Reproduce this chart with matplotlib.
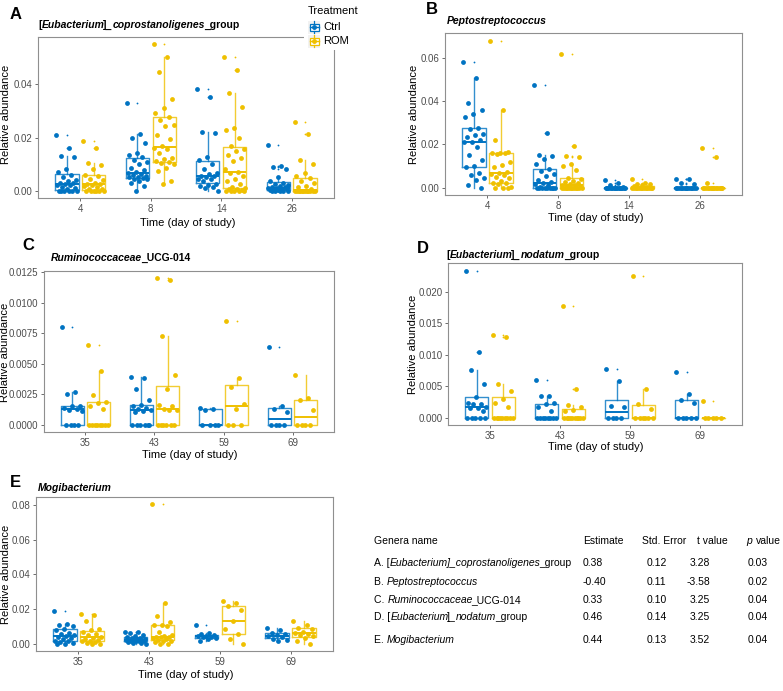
import numpy as np
import matplotlib
matplotlib.use('Agg')
import matplotlib.pyplot as plt
from matplotlib.patches import Rectangle

plt.rcParams['font.family'] = ['Liberation Sans', 'DejaVu Sans']

BLUE = '#0073C2'
YELLOW = '#EFC000'

# x axis labels
days_early = ['4', '8', '14', '26']
days_late = ['35', '43', '59', '69']

# A - [Eubacterium]_coprostanoligenes_group
a_ctrl = [
    [0.021, 0.016, 0.013, 0.0125, 0.008, 0.007, 0.006, 0.005, 0.004, 0.0035, 0.003, 0.0028,
     0.0025, 0.0022, 0.002, 0.0015, 0.001, 0.0005, 0, 0, 0, 0, 0, 0],
    [0.033, 0.0213, 0.0198, 0.018, 0.014, 0.0134, 0.0128, 0.0115, 0.0108, 0.0099, 0.0085, 0.0078,
     0.007, 0.0066, 0.0062, 0.0058, 0.0056, 0.0053, 0.005, 0.0048, 0.0045, 0.0043, 0.0037, 0.003,
     0.0019, 0.0],
    [0.0384, 0.0353, 0.0219, 0.0216, 0.0128, 0.0115, 0.0099, 0.008, 0.0068, 0.0062, 0.0056, 0.0054,
     0.005, 0.0045, 0.0043, 0.0037, 0.0025, 0.002, 0.0018, 0.0015, 0.0009, 0.0],
    [0.0171, 0.0093, 0.0088, 0.008, 0.0052, 0.0037, 0.003, 0.0027, 0.0022, 0.0018, 0.0015, 0.0012,
     0.0011, 0.001, 0.0008, 0.0006, 0.0005, 0.0004, 0.0002, 0, 0, 0, 0, 0],
]
a_rom = [
    [0.0186, 0.016, 0.0103, 0.0097, 0.008, 0.006, 0.0055, 0.0045, 0.004, 0.003, 0.0027, 0.0025,
     0.002, 0.0018, 0.0012, 0.0008, 0.0005, 0, 0, 0, 0, 0, 0],
    [0.0551, 0.0504, 0.0446, 0.0343, 0.031, 0.0294, 0.0279, 0.0265, 0.0248, 0.0242, 0.021, 0.0195,
     0.0167, 0.0161, 0.0155, 0.014, 0.0124, 0.0118, 0.0112, 0.0108, 0.0104, 0.0099, 0.0087, 0.0074,
     0.0037, 0.0025],
    [0.0504, 0.0455, 0.0369, 0.0316, 0.0235, 0.0227, 0.02, 0.0167, 0.0155, 0.0149, 0.0136, 0.0124,
     0.0112, 0.008, 0.0072, 0.0068, 0.0056, 0.0045, 0.0037, 0.0025, 0.0015, 0.001, 0.0008, 0.0005,
     0.0002, 0, 0, 0, 0, 0],
    [0.0257, 0.0213, 0.0114, 0.0099, 0.0068, 0.0056, 0.0047, 0.0037, 0.003, 0.0019, 0.0012, 0.0005,
     0, 0, 0, 0, 0, 0, 0, 0, 0, 0, 0, 0],
]

# B - Peptostreptococcus
b_ctrl = [
    [0.058, 0.0505, 0.039, 0.0359, 0.034, 0.0328, 0.0276, 0.0272, 0.0249, 0.0241, 0.0234, 0.0218,
     0.0212, 0.021, 0.0188, 0.015, 0.0127, 0.0099, 0.0096, 0.0066, 0.0058, 0.0043, 0.0035, 0.0012, 0.0],
    [0.0475, 0.0252, 0.0153, 0.0147, 0.013, 0.0111, 0.0084, 0.0078, 0.0063, 0.0053, 0.0035, 0.0025,
     0.002, 0.0015, 0.0012, 0.0005, 0, 0, 0, 0, 0, 0, 0, 0, 0],
    [0.0033, 0.0022, 0.001, 0.0005, 0, 0, 0, 0, 0, 0, 0, 0, 0, 0, 0, 0, 0, 0, 0, 0],
    [0.004, 0.0038, 0.0021, 0.0018, 0, 0, 0, 0, 0, 0, 0, 0, 0, 0, 0, 0, 0, 0],
]
b_rom = [
    [0.0676, 0.036, 0.0218, 0.0165, 0.0162, 0.016, 0.0158, 0.0157, 0.0119, 0.0104, 0.0096, 0.0073,
     0.0066, 0.0062, 0.0058, 0.005, 0.0043, 0.003, 0.0023, 0.002, 0.0015, 0.0005, 0, 0, 0],
    [0.0615, 0.0192, 0.0147, 0.014, 0.0108, 0.0101, 0.0081, 0.0043, 0.004, 0.003, 0.0025, 0.002,
     0.0015, 0.0012, 0.001, 0.0007, 0.0004, 0, 0, 0, 0, 0, 0, 0, 0, 0, 0, 0, 0],
    [0.0038, 0.0023, 0.0018, 0.0015, 0.001, 0.0008, 0.0005, 0, 0, 0, 0, 0, 0, 0, 0, 0, 0, 0, 0, 0],
    [0.0183, 0.0142, 0.002, 0, 0, 0, 0, 0, 0, 0, 0, 0, 0, 0, 0, 0, 0, 0],
]

# C - Ruminococcaceae_UCG-014
c_ctrl = [
    [0.008, 0.0027, 0.0025, 0.0015, 0.0015, 0.0014, 0.0013, 0.0012, 0.0011, 0, 0, 0, 0],
    [0.0039, 0.0038, 0.0029, 0.002, 0.0016, 0.0015, 0.0014, 0.0013, 0.0012, 0.0011, 0.001,
     0, 0, 0, 0, 0, 0],
    [0.0014, 0.0013, 0.0012, 0, 0, 0, 0],
    [0.0064, 0.0015, 0.0013, 0.001, 0, 0, 0, 0],
]
c_rom = [
    [0.0065, 0.0044, 0.0024, 0.0019, 0.0018, 0.0015, 0.0013, 0, 0, 0, 0, 0, 0, 0, 0],
    [0.012, 0.0119, 0.0073, 0.0041, 0.0029, 0.0016, 0.0015, 0.0013, 0.0012, 0.0012,
     0, 0, 0, 0, 0, 0],
    [0.0085, 0.0038, 0.0031, 0.0017, 0.0013, 0, 0, 0],
    [0.0041, 0.0022, 0.002, 0.0012, 0, 0, 0, 0],
]

# D - [Eubacterium]_nodatum_group
d_ctrl = [
    [0.0234, 0.0104, 0.0076, 0.0054, 0.0033, 0.0024, 0.0022, 0.0021, 0.0017, 0.0016, 0.0015, 0.001,
     0, 0, 0, 0, 0],
    [0.006, 0.0035, 0.0034, 0.0024, 0.0021, 0.0017, 0.0011, 0, 0, 0, 0, 0, 0, 0, 0],
    [0.0077, 0.0058, 0.0018, 0.0017, 0, 0, 0, 0],
    [0.0072, 0.0037, 0.0028, 0.0024, 0, 0, 0, 0, 0],
]
d_rom = [
    [0.0131, 0.0128, 0.0054, 0.0042, 0.0029, 0.0024, 0.0017, 0, 0, 0, 0, 0, 0, 0, 0, 0],
    [0.0178, 0.0046, 0.002, 0.0017, 0.0012, 0.0011, 0, 0, 0, 0, 0, 0, 0, 0, 0, 0],
    [0.0226, 0.0046, 0.0022, 0.0013, 0, 0, 0, 0, 0, 0],
    [0.0027, 0, 0, 0, 0, 0],
]

# E - Mogibacterium
e_ctrl = [
    [0.019, 0.0115, 0.011, 0.0105, 0.0088, 0.008, 0.0065, 0.006, 0.005, 0.0045, 0.004, 0.0035,
     0.003, 0.002, 0.0015, 0.001, 0.0005, 0, 0],
    [0.0072, 0.007, 0.0065, 0.0052, 0.0045, 0.004, 0.0036, 0.0033, 0.003, 0.0028, 0.0026, 0.0025,
     0.0024, 0.0022, 0.002, 0.0019, 0.0018, 0.0016, 0.0012, 0.0008, 0.0004, 0.0],
    [0.011, 0.0062, 0.0056, 0.0052, 0.0048, 0.0045, 0.0042, 0.0038, 0.0035, 0.003, 0.0015],
    [0.0095, 0.0078, 0.0065, 0.006, 0.005, 0.0045, 0.0038, 0.003, 0.0025, 0.0015],
]
e_rom = [
    [0.0175, 0.0165, 0.013, 0.0085, 0.0078, 0.007, 0.006, 0.005, 0.0042, 0.0035, 0.003, 0.0025,
     0.002, 0.0015, 0.001, 0.0005, 0, 0],
    [0.0805, 0.0235, 0.016, 0.0125, 0.0112, 0.011, 0.0105, 0.007, 0.0052, 0.0045, 0.0042, 0.004,
     0.0038, 0.0035, 0.003, 0.0025, 0.002, 0.0015, 0.001, 0.0, 0.0],
    [0.0245, 0.0235, 0.022, 0.0195, 0.0135, 0.0085, 0.0055, 0.003, 0.0],
    [0.0135, 0.011, 0.0095, 0.0088, 0.007, 0.0062, 0.006, 0.0052, 0.0045, 0.0035, 0.002, 0.0],
]

# table
tab_header = ['Estimate', 'Std. Error', 't value']
tab_estimate = ['0.38', '-0.40', '0.33', '0.46', '0.44']
tab_se = ['0.12', '0.11', '0.10', '0.14', '0.13']
tab_t = ['3.28', '-3.58', '3.25', '3.25', '3.52']
tab_p = ['0.03', '0.02', '0.04', '0.04', '0.04']
tab_names = [
    [('A. [', 'normal'), ('Eubacterium]_coprostanoligenes', 'italic'), ('_group', 'normal')],
    [('B. ', 'normal'), ('Peptostreptococcus', 'italic')],
    [('C. ', 'normal'), ('Ruminococcaceae', 'italic'), ('_UCG-014', 'normal')],
    [('D. [', 'normal'), ('Eubacterium', 'italic'), (']_', 'normal'), ('nodatum', 'italic'),
     ('_group', 'normal')],
    [('E. ', 'normal'), ('Mogibacterium', 'italic')],
]

W, H = 783, 691
fig = plt.figure(figsize=(W / 100, H / 100), dpi=100)
over = fig.add_axes([0, 0, 1, 1])
over.set_xlim(0, W)
over.set_ylim(H, 0)
over.axis('off')
over.set_zorder(10)
renderer = fig.canvas.get_renderer()


def rich(x, y, parts, size, weight='normal'):
    for s, style in parts:
        t = over.text(x, y, s, fontsize=size, style=style, weight=weight,
                      va='center', ha='left')
        x = t.get_window_extent(renderer).x1 - (1.0 if style == 'italic' else 0.0)


def panel(box, ctrl, rom, days, yticks, yfmt, ylim):
    l, t, r, b = box
    ax = fig.add_axes([l / W, 1 - b / H, (r - l) / W, (b - t) / H])
    for i in range(4):
        for data, off, col in ((ctrl[i], -0.19, BLUE), (rom[i], 0.19, YELLOW)):
            pos = i + 1 + off
            ax.boxplot(data, positions=[pos], widths=0.33, showcaps=False, manage_ticks=False,
                       boxprops=dict(color=col, lw=1.0, alpha=0.8),
                       whiskerprops=dict(color=col, lw=1.0, alpha=0.8),
                       medianprops=dict(color=col, lw=1.4),
                       flierprops=dict(marker='o', markersize=1.3, markerfacecolor=col,
                                       markeredgecolor='none'))
            n = len(data)
            jit = ((np.arange(n) * 0.618034) % 1 - 0.5) * 0.3
            ax.scatter(pos + jit, data, s=12, color=col, lw=0, zorder=3)
    ax.set_xlim(0.4, 4.6)
    ax.set_ylim(*ylim)
    ax.set_xticks([1, 2, 3, 4], days)
    ax.set_yticks(yticks, [yfmt.format(v) for v in yticks])
    for sp in ax.spines.values():
        sp.set_color('#8f8f8f')
        sp.set_linewidth(0.8)
    ax.tick_params(length=2.5, width=0.6, color='#555555', labelsize=7,
                   labelcolor='#4d4d4d', pad=1.5)
    return ax


panel((38, 37, 334, 198), a_ctrl, a_rom, days_early, [0, 0.02, 0.04], '{:.2f}',
      (-0.00275, 0.0578))
panel((445, 33, 742, 195), b_ctrl, b_rom, days_early, [0, 0.02, 0.04, 0.06], '{:.2f}',
      (-0.0034, 0.0714))
panel((44, 271, 334, 432), c_ctrl, c_rom, days_late,
      [0, 0.0025, 0.005, 0.0075, 0.01, 0.0125], '{:.4f}', (-0.0006, 0.0126))
panel((448, 263, 742, 425), d_ctrl, d_rom, days_late, [0, 0.005, 0.01, 0.015, 0.02], '{:.3f}',
      (-0.00117, 0.0246))
panel((36, 497, 333, 651), e_ctrl, e_rom, days_late, [0, 0.02, 0.04, 0.06, 0.08], '{:.2f}',
      (-0.004, 0.0845))

# panel letters
for letter, x, y in (('A', 10, 14), ('B', 426, 9), ('C', 22, 245), ('D', 417, 248), ('E', 10, 482)):
    over.text(x, y, letter, fontsize=12, weight='bold', va='center', ha='left')

# panel titles
rich(38, 25, [('[', 'normal'), ('Eubacterium', 'italic'), (']_', 'normal'),
              ('coprostanoligenes', 'italic'), ('_group', 'normal')], 7.5, 'bold')
rich(447, 21, [('Peptostreptococcus', 'italic')], 7.5, 'bold')
rich(51, 258, [('Ruminococcaceae', 'italic'), ('_UCG-014', 'normal')], 7.5, 'bold')
rich(446, 255, [('[', 'normal'), ('Eubacterium', 'italic'), (']_', 'normal'),
                ('nodatum', 'italic'), ('_group', 'normal')], 7.5, 'bold')
rich(38, 488, [('Mogibacterium', 'italic')], 7.5, 'bold')

# axis titles
for x, y in ((188, 223), (596, 218), (190, 455), (596, 447), (186, 675)):
    over.text(x, y, 'Time (day of study)', fontsize=8, ha='center', va='center')
for x, y in ((6, 114), (414, 114), (5, 352), (413, 344), (6, 574)):
    over.text(x, y, 'Relative abundance', fontsize=8, ha='center', va='center', rotation=90)

# legend (its white box covers the corner of panel A)
over.add_patch(Rectangle((304, 0), 48, 50, facecolor='white', edgecolor='none'))
over.text(308, 11, 'Treatment', fontsize=8, ha='left', va='center')
for y, lab, col in ((27, 'Ctrl', BLUE), (41, 'ROM', YELLOW)):
    over.add_patch(Rectangle((308, y - 6.5), 12, 13, facecolor='#f2f2f2', edgecolor='none'))
    over.add_patch(Rectangle((309.5, y - 3.5), 9, 7, facecolor='white', edgecolor=col, lw=0.9))
    over.plot([309.5, 318.5], [y, y], color=col, lw=1.0)
    over.plot([314, 314], [y - 6, y - 3.5], color=col, lw=0.9)
    over.plot([314, 314], [y + 3.5, y + 6], color=col, lw=0.9)
    over.plot([314], [y], 'o', color=col, ms=2.5)
    over.text(323, y, lab, fontsize=8, ha='left', va='center')

# table
TS = 7.5
over.text(374, 541, 'Genera name', fontsize=TS, va='center')
for x, s in zip((583, 642, 697), tab_header):
    over.text(x, 541, s, fontsize=TS, va='center')
over.text(746, 541, 'p', fontsize=TS, style='italic', va='center')
over.text(755.5, 541, 'value', fontsize=TS, va='center')
for y, parts, est, se, tv, pv in zip((563, 582, 600, 617, 640), tab_names,
                                     tab_estimate, tab_se, tab_t, tab_p):
    rich(374, y, parts, TS)
    over.text(583, y, est, fontsize=TS, va='center')
    over.text(647, y, se, fontsize=TS, va='center')
    over.text(710, y, tv, fontsize=TS, va='center', ha='right')
    over.text(748, y, pv, fontsize=TS, va='center')

fig.savefig('out.png', dpi=100)
